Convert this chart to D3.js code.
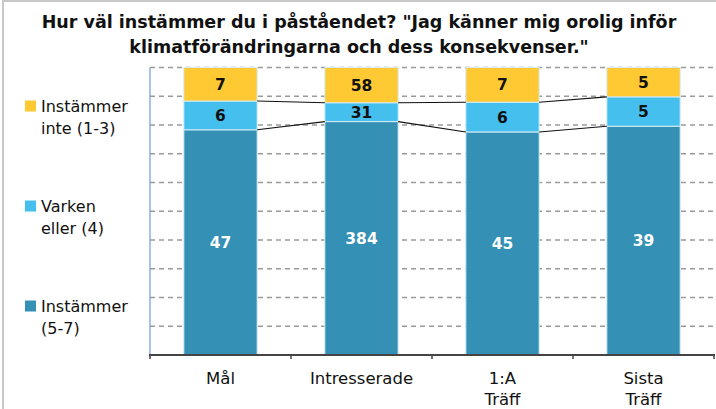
<!DOCTYPE html>
<html>
<head>
<meta charset="utf-8">
<script src="https://cdn.jsdelivr.net/npm/d3@7"></script>
<style>
  body { margin: 0; background: #fff; }
  svg { display: block; font-family: "DejaVu Sans", sans-serif; }
</style>
</head>
<body>
<div id="chart"></div>
<script>
// categories and series (counts per answer group)
const categories = ["Mål", "Intresserade", "1:A Träff", "Sista Träff"];
const categoryLines = [["Mål"], ["Intresserade"], ["1:A", "Träff"], ["Sista", "Träff"]];
const agree = [47, 384, 45, 39];       // Instämmer (5-7)
const neutral = [6, 31, 6, 5];         // Varken eller (4)
const disagree = [7, 58, 7, 5];        // Instämmer inte (1-3)
const seriesKeys = ["agree", "neutral", "disagree"];
const seriesColors = {agree: "#3490b4", neutral: "#45bfee", disagree: "#ffc933"};
const labelColors = {agree: "#ffffff", neutral: "#111111", disagree: "#111111"};
const legendItems = [
  {key: "disagree", lines: ["Instämmer", "inte (1-3)"], y: 106},
  {key: "neutral", lines: ["Varken", "eller (4)"], y: 206},
  {key: "agree", lines: ["Instämmer", "(5-7)"], y: 306}
];
const titleLines = [
  "Hur väl instämmer du i påståendet? \"Jag känner mig orolig inför",
  "klimatförändringarna och dess konsekvenser.\""
];

const W = 716, H = 409;
const svg = d3.select("#chart").append("svg")
    .attr("width", W)
    .attr("height", H);

// frame
svg.append("rect")
    .attr("x", 3).attr("y", 1)
    .attr("width", W + 10).attr("height", H + 10)
    .attr("fill", "none")
    .attr("stroke", "#c8c8c8")
    .attr("stroke-width", 2);

// title
svg.append("g").selectAll("text")
    .data(titleLines)
    .enter().append("text")
    .attr("x", 359)
    .attr("y", (d, i) => 28 + i * 25)
    .attr("text-anchor", "middle")
    .attr("font-size", 17.5)
    .attr("font-weight", "bold")
    .attr("fill", "#111")
    .text((d) => d);

const plot = {left: 150, right: 714, top: 67.5, bottom: 355};

const rows = categories.map((c, i) => ({
  cat: c, agree: agree[i], neutral: neutral[i], disagree: disagree[i]
}));
const stacked = d3.stack().keys(seriesKeys).offset(d3.stackOffsetExpand)(rows);

const x = d3.scaleBand()
    .domain(categories)
    .range([plot.left, plot.right])
    .padding(0);
const barW = x.bandwidth() * 0.52;
const y = d3.scaleLinear()
    .domain([0, 1])
    .range([plot.bottom, plot.top]);

// gridlines
svg.append("g").selectAll("line")
    .data(d3.range(1, 11).map((d) => d / 10))
    .enter().append("line")
    .attr("x1", plot.left).attr("x2", plot.right + 2)
    .attr("y1", (d) => y(d)).attr("y2", (d) => y(d))
    .attr("stroke", "#9a9a9a")
    .attr("stroke-width", 1.3)
    .attr("stroke-dasharray", "5,4");

// left axis line
svg.append("line")
    .attr("x1", plot.left).attr("x2", plot.left)
    .attr("y1", plot.top).attr("y2", plot.bottom)
    .attr("stroke", "#6d9bd6")
    .attr("stroke-width", 1.2);

// bars
const layers = svg.append("g").selectAll("g")
    .data(stacked)
    .enter().append("g")
    .attr("fill", (d) => seriesColors[d.key]);

layers.selectAll("rect")
    .data((d) => d)
    .enter().append("rect")
    .attr("x", (d) => x(d.data.cat) + (x.bandwidth() - barW) / 2)
    .attr("y", (d) => y(d[1]))
    .attr("width", barW)
    .attr("height", (d) => y(d[0]) - y(d[1]))
    .attr("stroke", "#d4ecf6")
    .attr("stroke-width", 1);

// series lines between bars
const connectors = [];
stacked.slice(0, 2).forEach((layer) => {
  for (let i = 0; i < layer.length - 1; i++) {
    connectors.push({
      x1: x(categories[i]) + (x.bandwidth() + barW) / 2,
      y1: y(layer[i][1]),
      x2: x(categories[i + 1]) + (x.bandwidth() - barW) / 2,
      y2: y(layer[i + 1][1])
    });
  }
});
svg.append("g").selectAll("line")
    .data(connectors)
    .enter().append("line")
    .attr("x1", (d) => d.x1).attr("y1", (d) => d.y1)
    .attr("x2", (d) => d.x2).attr("y2", (d) => d.y2)
    .attr("stroke", "#111")
    .attr("stroke-width", 1.1);

// value labels
stacked.forEach((layer) => {
  svg.append("g").selectAll("text")
      .data(layer)
      .enter().append("text")
      .attr("x", (d) => x(d.data.cat) + x.bandwidth() / 2)
      .attr("y", (d) => (y(d[0]) + y(d[1])) / 2)
      .attr("dy", "0.36em")
      .attr("text-anchor", "middle")
      .attr("font-size", 15.5)
      .attr("font-weight", "bold")
      .attr("fill", labelColors[layer.key])
      .text((d) => d.data[layer.key]);
});

// bottom axis
svg.append("line")
    .attr("x1", plot.left - 1).attr("x2", plot.right + 1)
    .attr("y1", plot.bottom).attr("y2", plot.bottom)
    .attr("stroke", "#444")
    .attr("stroke-width", 2);
svg.append("g").selectAll("line")
    .data(categories.concat(["end"]))
    .enter().append("line")
    .attr("x1", (d, i) => i < categories.length ? x(d) : plot.right)
    .attr("x2", (d, i) => i < categories.length ? x(d) : plot.right)
    .attr("y1", plot.bottom).attr("y2", plot.bottom + 4)
    .attr("stroke", "#444")
    .attr("stroke-width", 1.5);

// category labels
const catLabels = svg.append("g").selectAll("text")
    .data(categories)
    .enter().append("text")
    .attr("x", (d) => x(d) + x.bandwidth() / 2)
    .attr("y", 384)
    .attr("text-anchor", "middle")
    .attr("font-size", 16.5)
    .attr("fill", "#111");
catLabels.selectAll("tspan")
    .data((d, i) => categoryLines[i])
    .enter().append("tspan")
    .attr("x", function() { return this.parentNode.getAttribute("x"); })
    .attr("dy", (d, i) => i === 0 ? 0 : 20.5)
    .text((d) => d);

// legend
const leg = svg.append("g").selectAll("g")
    .data(legendItems)
    .enter().append("g");
leg.append("rect")
    .attr("x", 25)
    .attr("y", (d) => d.y - 5.5)
    .attr("width", 11).attr("height", 11)
    .attr("fill", (d) => seriesColors[d.key]);
leg.append("text")
    .attr("font-size", 16)
    .attr("fill", "#111")
    .selectAll("tspan")
    .data((d) => d.lines.map((l, i) => ({l: l, y: d.y + i * 22})))
    .enter().append("tspan")
    .attr("x", 41)
    .attr("y", (d) => d.y)
    .attr("dy", "0.35em")
    .text((d) => d.l);
</script>
</body>
</html>
